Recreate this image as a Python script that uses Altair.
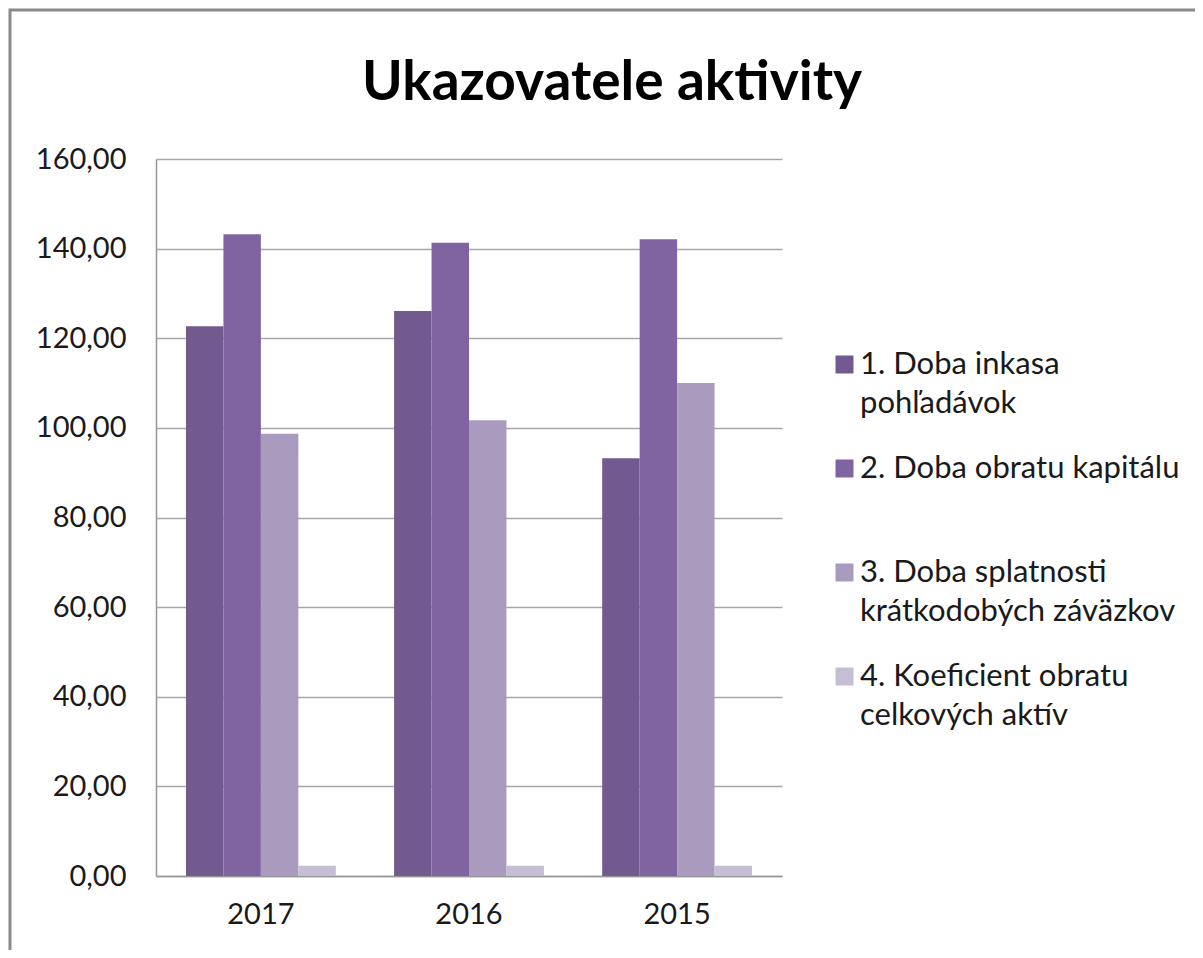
import altair as alt
import pandas as pd

years = ["2017", "2016", "2015"]
series = [
    "1. Doba inkasa pohľadávok",
    "2. Doba obratu kapitálu",
    "3. Doba splatnosti krátkodobých záväzkov",
    "4. Koeficient obratu celkových aktív",
]
legend_lines = [
    ["1. Doba inkasa", "pohľadávok"],
    ["2. Doba obratu kapitálu"],
    ["3. Doba splatnosti", "krátkodobých záväzkov"],
    ["4. Koeficient obratu", "celkových aktív"],
]
doba_inkasa = [122.7, 126.1, 93.2]
doba_obratu = [143.2, 141.3, 142.1]
doba_splatnosti = [98.7, 101.7, 110.0]
koeficient = [2.3, 2.3, 2.3]
colors = ["#725a8e", "#8064a2", "#a99bbd", "#c6bdd6"]
y_ticks = [0, 20, 40, 60, 80, 100, 120, 140, 160]

rows = []
for s, vals in zip(series, [doba_inkasa, doba_obratu, doba_splatnosti, koeficient]):
    for y, v in zip(years, vals):
        rows.append({"year": y, "series": s, "value": v})
df = pd.DataFrame(rows)

label_expr = ""
for s, lines in zip(series, legend_lines):
    arr = "[" + ",".join("'" + l + "'" for l in lines) + "]"
    label_expr += f"datum.label == '{s}' ? {arr} : "
label_expr += "datum.label"

FONT = "Lato"
TXT = "#1a1a1a"

bars = alt.Chart(df).mark_bar().encode(
    x=alt.X(
        "year:N", sort=years, title=None,
        scale=alt.Scale(paddingInner=0.28, paddingOuter=0.144),
        axis=alt.Axis(labelAngle=0, ticks=False, labelPadding=24, labelFontSize=29,
                      labelFont=FONT, labelColor=TXT, domainColor="#969696",
                      domainWidth=1.5, grid=False),
    ),
    xOffset=alt.XOffset("series:N", sort=series),
    y=alt.Y(
        "value:Q", title=None,
        scale=alt.Scale(domain=[0, 160], nice=False),
        axis=alt.Axis(values=y_ticks, ticks=False, labelPadding=30, labelFontSize=29,
                      labelFont=FONT, labelColor=TXT, domainColor="#969696",
                      domainWidth=1.5, gridColor="#a6a6a6", gridWidth=1.5,
                      labelExpr="replace(format(datum.value, '.2f'), '.', ',')"),
    ),
    color=alt.Color(
        "series:N", sort=series,
        scale=alt.Scale(domain=series, range=colors),
        legend=alt.Legend(
            title=None, orient="none", legendX=673, legendY=190, padding=0,
            symbolType="square", symbolSize=324, symbolStrokeWidth=0,
            labelFont=FONT, labelFontSize=31, labelColor=TXT, labelLimit=400,
            labelOffset=0, columns=1, gridAlign="all", rowPadding=33,
            labelExpr=label_expr,
        ),
    ),
)

frame = alt.Chart(pd.DataFrame({"a": [0]})).mark_rect(
    fillOpacity=0, stroke="#8a8a8a", strokeWidth=3
).encode(
    x=alt.value(-146), x2=alt.value(1070),
    y=alt.value(-149), y2=alt.value(900),
)

chart = alt.layer(frame, bars).properties(
    width=626, height=717,
    title=alt.TitleParams(
        "Ukazovatele aktivity", font=FONT, fontSize=55, fontWeight="bold",
        color="#000000", anchor="middle", dx=143, offset=0, dy=146,
        baseline="alphabetic",
    ),
    padding={"left": 148, "top": 151, "right": 413, "bottom": 74},
    autosize=alt.AutoSizeParams(type="none"),
).configure(
    style={"guide-label": {"lineHeight": 39}},
    view={"stroke": "transparent"},
)

chart.save("out.html", embed_options={"renderer": "svg", "actions": False})
